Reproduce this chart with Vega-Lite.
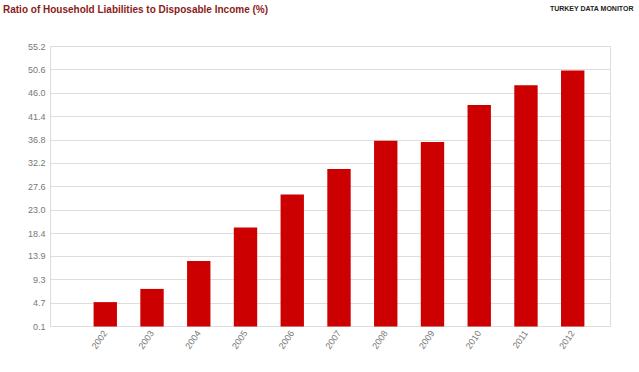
{
  "$schema": "https://vega.github.io/schema/vega-lite/v6.json",
  "autosize": {"type": "none"},
  "padding": {"left": 50, "top": 46, "right": 29, "bottom": 46},
  "width": 560,
  "height": 280,
  "background": "white",
  "title": {
    "text": "Ratio of Household Liabilities to Disposable Income (%)",
    "anchor": "start",
    "frame": "group",
    "dx": -47,
    "offset": -11,
    "font": "Liberation Sans",
    "fontSize": 10,
    "fontWeight": "bold",
    "color": "#8b1a1a"
  },
  "data": {
    "values": [
      {"year": "2002", "value": 4.8},
      {"year": "2003", "value": 7.4},
      {"year": "2004", "value": 12.9},
      {"year": "2005", "value": 19.5},
      {"year": "2006", "value": 26.0},
      {"year": "2007", "value": 31.0},
      {"year": "2008", "value": 36.55},
      {"year": "2009", "value": 36.3},
      {"year": "2010", "value": 43.6},
      {"year": "2011", "value": 47.5},
      {"year": "2012", "value": 50.4}
    ]
  },
  "layer": [
    {
      "mark": {"type": "bar", "color": "#cc0000"},
      "encoding": {
        "x": {
          "field": "year",
          "type": "ordinal",
          "scale": {"paddingInner": 0.5, "paddingOuter": 0.74, "align": 0.63},
          "axis": {
            "title": null,
            "labelAngle": -55,
            "labelFont": "Liberation Sans",
            "labelFontSize": 9,
            "labelColor": "#777777",
            "labelPadding": 5,
            "ticks": false,
            "domain": false,
            "grid": false
          }
        },
        "y": {
          "field": "value",
          "type": "quantitative",
          "scale": {"domain": [0.1, 55.2], "zero": false, "nice": false},
          "axis": {
            "title": null,
            "values": [0.1, 4.7, 9.3, 13.9, 18.4, 23.0, 27.6, 32.2, 36.8, 41.4, 46.0, 50.6, 55.2],
            "format": ".1f",
            "labelOverlap": false,
            "labelFont": "Liberation Sans",
            "labelFontSize": 9,
            "labelColor": "#777777",
            "labelPadding": 5,
            "ticks": false,
            "domain": false,
            "grid": true,
            "gridColor": "#dddddd",
            "gridWidth": 1
          }
        }
      }
    },
    {
      "mark": {"type": "bar", "opacity": 0},
      "encoding": {
        "x": {
          "field": "year",
          "type": "ordinal",
          "axis": {
            "orient": "top",
            "title": "TURKEY DATA MONITOR",
            "titleAnchor": "end",
            "titleAlign": "right",
            "titleX": 583,
            "titleFont": "Liberation Sans",
            "titleFontSize": 7,
            "titleFontWeight": "bold",
            "titleColor": "#222222",
            "titlePadding": 35,
            "labels": false,
            "ticks": false,
            "domain": false,
            "grid": false
          }
        }
      }
    }
  ],
  "resolve": {"axis": {"x": "independent"}},
  "config": {"view": {"stroke": "#dddddd"}, "axisY": {"labelOverlap": false}}
}
